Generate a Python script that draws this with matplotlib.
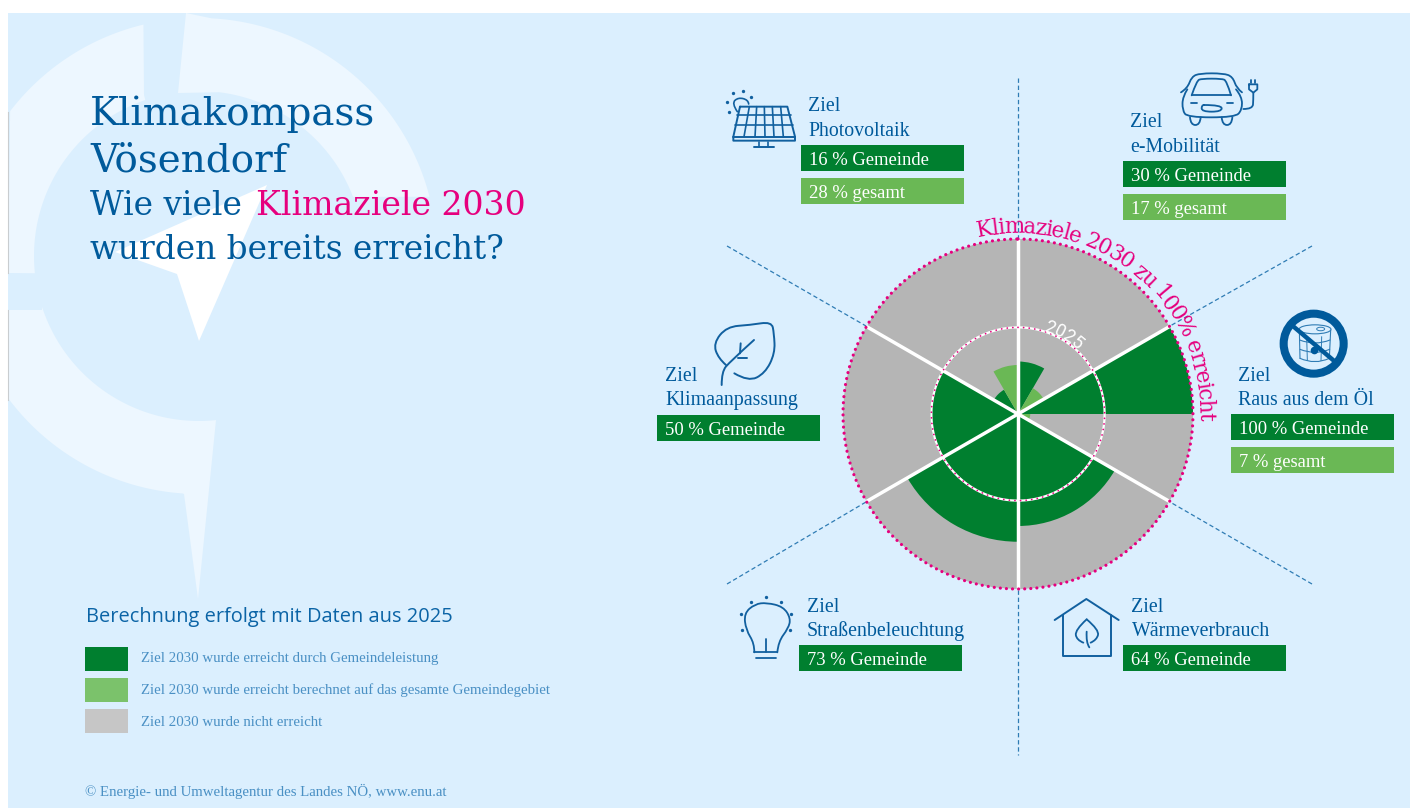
import numpy as np
import matplotlib
matplotlib.use("Agg")
import matplotlib.pyplot as plt
from matplotlib.patches import Polygon, Rectangle, Circle, Ellipse, PathPatch
from matplotlib.path import Path
from matplotlib.font_manager import FontProperties
from matplotlib.textpath import text_to_path

# ---------- data ----------
goals = ["e-Mobilität", "Raus aus dem Öl", "Wärmeverbrauch",
         "Straßenbeleuchtung", "Klimaanpassung", "Photovoltaik"]
gemeinde = [30, 100, 64, 73, 50, 16]
gesamt = [17, 7, None, None, None, 28]
ring_2025 = 49.5
legend_labels = ["Ziel 2030 wurde erreicht durch Gemeindeleistung",
                 "Ziel 2030 wurde erreicht berechnet auf das gesamte Gemeindegebiet",
                 "Ziel 2030 wurde nicht erreicht"]

# ---------- style ----------
BG, WM = "#DBEFFE", "#EDF7FF"
DARK, LIGHT, GREY = "#007F2F", "#6AB855", "#B5B5B5"
PINK, BLUE, ICON = "#E6007E", "#005A9B", "#11609F"
LEG_BLUE = "#4A90C4"
W, H = 1410, 808
CX, CY, R = 1018, 414, 175
SERIF = "Liberation Serif"
SLAB = "DejaVu Serif"

fig = plt.figure(figsize=(W / 100, H / 100), dpi=100, facecolor="white")

# ---------- background layer ----------
bg = fig.add_axes([0, 0, 1, 1], zorder=0)
bg.set_xlim(0, W); bg.set_ylim(H, 0); bg.axis("off")
bg.add_patch(Rectangle((8, 13), W - 8, H - 13, fc=BG, ec="none"))


def arc(cx, cy, r, a0, a1, n=80):
    a = np.radians(np.linspace(a0, a1, n))
    return np.c_[cx + r * np.sin(a), cy - r * np.cos(a)]


wc = (199, 256)
ri, ro = 165, 238
# upper right arc with its spike
pts = np.vstack([[(178, 93), (186, 13), (210, 18)],
                 arc(*wc, ro, 3, 75.6),
                 arc(*wc, ri, 69, 7)])
bg.add_patch(Polygon(pts, fc=WM, ec="none"))
# upper left arc
pts = np.vstack([arc(*wc, ro, -82, -13.5),
                 [(144, 95)],
                 arc(*wc, ri, -19, -96),
                 [(8, 273)]])
mask = pts[:, 0] >= 8
bg.add_patch(Polygon(pts[mask], fc=WM, ec="none"))
# lower left arc with its spike
pts = np.vstack([[(8, 310), (42, 310)],
                 arc(*wc, ri, 252, 174),
                 [(216, 420), (198, 599), (184, 494)],
                 arc(*wc, ro, 184, 233)])
bg.add_patch(Polygon(pts, fc=WM, ec="none"))
# needle
bg.add_patch(Polygon([(267, 185), (115, 252), (177, 274), (199, 341)], fc="white", ec="none"))
bg.plot([8, 8], [112, 273], color="#C9CDD0", lw=0.8)
bg.plot([8, 8], [310, 400], color="#C9CDD0", lw=0.8)

# dashed guide lines
for (x0, y0, x1, y1) in [(1018, 78, 1018, 240), (1018, 590, 1018, 755),
                         (727, 246, 866, 326), (1312, 246, 1170, 326),
                         (727, 584, 866, 502), (1312, 584, 1170, 502)]:
    bg.plot([x0, x1], [y0, y1], color="#2F7CB4", lw=0.9, dashes=(3.5, 2.2))

# ---------- polar chart ----------
ax = fig.add_axes([(CX - R) / W, (H - CY - R) / H, 2 * R / W, 2 * R / H],
                  projection="polar", zorder=1)
ax.set_theta_zero_location("N")
ax.set_theta_direction(-1)
ax.set_rlim(0, 100)
ax.set_axis_off()
sector = np.radians(60)
for i, (g, t) in enumerate(zip(gemeinde, gesamt)):
    start = i * sector
    ax.bar(start, 100, width=sector, align="edge", color=GREY, lw=0, zorder=1)
    if t is None:
        ax.bar(start, g, width=sector, align="edge", color=DARK, lw=0, zorder=2)
    else:
        ax.bar(start, g, width=sector / 2, align="edge", color=DARK, lw=0, zorder=2)
        ax.bar(start + sector / 2, t, width=sector / 2, align="edge", color=LIGHT, lw=0, zorder=2)
for i in range(len(goals)):
    ax.plot([i * sector] * 2, [0, 100], color="white", lw=2.5, zorder=3, clip_on=False,
            solid_capstyle="butt")
theta = np.linspace(0, 2 * np.pi, 500)
ax.plot(theta, np.full_like(theta, ring_2025), color="white", lw=1.6, zorder=4)
ax.plot(theta, np.full_like(theta, ring_2025), color=PINK, lw=1.3, zorder=5,
        dashes=(0.01, 3.1), dash_capstyle="round")
ax.plot(theta, np.full_like(theta, 100), color=PINK, lw=2.3, zorder=5, clip_on=False,
        dashes=(0.01, 1.9), dash_capstyle="round")

# ---------- foreground layer ----------
ov = fig.add_axes([0, 0, 1, 1], zorder=2)
ov.set_xlim(0, W); ov.set_ylim(H, 0); ov.axis("off"); ov.patch.set_alpha(0)


def curved(s, r, a0, a1, size, color, family):
    fp = FontProperties(family=family, size=size)
    adv = lambda q: text_to_path.get_text_width_height_descent(q, fp, False)[0]
    total = adv(s)
    for i, ch in enumerate(s):
        if ch == " ":
            continue
        mid = (adv(s[:i]) + adv(s[:i + 1])) / 2
        a = a0 + (a1 - a0) * mid / total
        ar = np.radians(a)
        ov.text(CX + r * np.sin(ar), CY - r * np.cos(ar), ch, rotation=-a,
                rotation_mode="anchor", ha="center", va="baseline",
                fontproperties=fp, color=color)


curved("Klimaziele 2030 zu 100% erreicht", 181, -12.5, 92, 15.5, PINK, SLAB)
curved("2025", 87, 17, 43, 13, "white", "Roboto")

# headline
ov.text(90, 125, "Klimakompass", family=SLAB, size=28, color=BLUE, va="baseline")
ov.text(90, 171, "Vösendorf", family=SLAB, size=28, color=BLUE, va="baseline")
ov.text(90, 215, "Wie viele", family=SLAB, size=23.7, color=BLUE, va="baseline")
ov.text(256, 215, "Klimaziele 2030", family=SLAB, size=23.9, color=PINK, va="baseline")
ov.text(90, 259, "wurden bereits erreicht?", family=SLAB, size=23.6, color=BLUE, va="baseline")

# legend
ov.text(86, 622, "Berechnung erfolgt mit Daten aus 2025", family="Open Sans", size=14.4,
        color="#0B64A6", va="baseline")
legend_colors = [DARK, "#7BC26B", "#C6C6C6"]
for lab, col, top, base in zip(legend_labels, legend_colors, (647, 678, 709), (662, 694, 726)):
    ov.add_patch(Rectangle((85, top), 43, 24, fc=col, ec="none"))
    ov.text(141, base, lab, family=SERIF, size=10.7, color=LEG_BLUE, va="baseline")
ov.text(85, 796, "© Energie- und Umweltagentur des Landes NÖ, www.enu.at", family=SERIF,
        size=10.7, color=LEG_BLUE, va="baseline")


# goal labels
def label(name, i, tx, by1, by2, bx, bt1, bt2=None):
    ov.text(tx, by1, "Ziel", family=SERIF, size=14.3, color=BLUE, va="baseline")
    ov.text(tx, by2, name, family=SERIF, size=14.3, color=BLUE, va="baseline")
    bw = 163
    ov.add_patch(Rectangle((bx, bt1), bw, 26, fc=DARK, ec="none"))
    ov.text(bx + 8, bt1 + 20, f"{gemeinde[i]} % Gemeinde", family=SERIF, size=13.4,
            color="white", va="baseline")
    if bt2 is not None and gesamt[i] is not None:
        ov.add_patch(Rectangle((bx, bt2), bw, 26, fc=LIGHT, ec="none"))
        ov.text(bx + 8, bt2 + 20, f"{gesamt[i]} % gesamt", family=SERIF, size=13.4,
                color="white", va="baseline")


label(goals[5], 5, 808, 111, 136, 801, 145, 178)
label(goals[0], 0, 1130, 127, 152, 1123, 161, 194)
label(goals[1], 1, 1238, 381, 405, 1231, 414, 447)
label(goals[4], 4, 665, 381, 405, 657, 415)
label(goals[3], 3, 807, 612, 636, 799, 645)
label(goals[2], 2, 1131.5, 612, 636, 1123, 645)


# ---------- icons ----------
def Z(ox, oy, pts):
    return [(ox + x / 3, oy + y / 3) for x, y in pts]


def line(ox, oy, pts, lw=1.2, color=ICON):
    p = np.array(Z(ox, oy, pts))
    ov.plot(p[:, 0], p[:, 1], color=color, lw=lw, solid_capstyle="round", solid_joinstyle="round")


def curve(ox, oy, pts, lw=1.2, color=ICON):
    p = np.array(Z(ox, oy, pts))
    verts, codes = [p[0]], [Path.MOVETO]
    for j in range(1, len(p) - 1):
        verts += [p[j], (p[j] + p[j + 1]) / 2 if j < len(p) - 2 else p[j + 1]]
        codes += [Path.CURVE3, Path.CURVE3]
    ov.add_patch(PathPatch(Path(verts, codes), fc="none", ec=color, lw=lw, capstyle="round"))


def dots(ox, oy, pts, s=1.4, color=ICON):
    p = np.array(Z(ox, oy, pts))
    ov.plot(p[:, 0], p[:, 1], "o", ms=s, color=color, mew=0)


# solar
o = (700, 70)
line(*o, [(120, 110), (262, 110), (285, 200), (285, 212), (100, 212), (100, 200), (120, 110)], 1.4)
line(*o, [(100, 200), (285, 200)], 1.4)
line(*o, [(110, 135), (272, 135)], 1.2); line(*o, [(105, 165), (278, 165)], 1.2)
for a, b in [(148, 132), (170, 165), (193, 195), (217, 222), (242, 250)]:
    line(*o, [(a, 110), (b, 200)], 1.2)
line(*o, [(178, 215), (178, 232)], 1.2); line(*o, [(205, 215), (205, 232)], 1.2)
line(*o, [(163, 232), (222, 232)], 1.4)
curve(*o, [(112, 125), (95, 100), (115, 82), (145, 90), (146, 102)], 1.2)
dots(*o, [(80, 95), (98, 70), (128, 63), (153, 80), (88, 125)], 2.4)

# car
o = (1100, 60)
curve(*o, [(243, 97), (262, 85), (275, 50), (300, 40), (370, 40), (398, 50), (410, 85), (426, 97)], 1.3)
curve(*o, [(275, 106), (290, 62), (305, 56), (365, 56), (380, 62), (393, 106)], 1.3)
line(*o, [(275, 106), (393, 106)], 1.3)
curve(*o, [(262, 88), (248, 110), (247, 150), (262, 172), (405, 172), (426, 150), (426, 110), (408, 88)], 1.3)
curve(*o, [(270, 172), (272, 195), (300, 195), (302, 172)], 1.3)
curve(*o, [(365, 172), (367, 195), (395, 195), (397, 172)], 1.3)
line(*o, [(272, 130), (290, 130)], 1.3); line(*o, [(380, 130), (400, 130)], 1.3)
curve(*o, [(312, 135), (305, 135), (305, 155), (365, 155), (365, 135), (312, 135)], 1.3)
curve(*o, [(430, 147), (458, 147), (460, 120), (460, 98)], 1.3)
line(*o, [(447, 73), (472, 73), (472, 88), (460, 98), (447, 88), (447, 73)], 1.3)
line(*o, [(452, 60), (452, 68)], 1.3); line(*o, [(466, 60), (466, 68)], 1.3)

# no oil
ocx, ocy = 1200 + 341 / 3, 300 + 131 / 3
ov.add_patch(Circle((ocx, ocy), 30, fc="none", ec=BLUE, lw=5.8))
thin = "#2F7CB4"
ov.add_patch(Ellipse((1200 + 345 / 3, 300 + 88 / 3), 32, 9, fc="none", ec=thin, lw=0.8))
ov.add_patch(Ellipse((1200 + 362 / 3, 300 + 87 / 3), 8, 3.5, fc="none", ec=thin, lw=0.7))
o = (1200, 300)
line(*o, [(298, 90), (300, 175)], 0.8, thin); line(*o, [(392, 90), (388, 175)], 0.8, thin)
curve(*o, [(300, 175), (345, 195), (388, 175)], 0.8, thin)
curve(*o, [(299, 120), (345, 138), (390, 120)], 0.8, thin)
curve(*o, [(300, 148), (345, 166), (389, 148)], 0.8, thin)
line(*o, [(320, 110), (322, 180)], 0.7, thin); line(*o, [(365, 110), (363, 182)], 0.7, thin)
dots(*o, [(342, 150)], 5.5, BLUE)
line(*o, [(275, 75), (405, 185)], 3.2, BLUE)

# leaf
o = (650, 310)
curve(*o, [(253, 190), (295, 215), (345, 190), (375, 130), (372, 70), (365, 35),
           (300, 45), (230, 50), (190, 100), (205, 145), (228, 165)], 1.4)
curve(*o, [(215, 225), (215, 185), (240, 155), (312, 90)], 1.4)
line(*o, [(265, 143), (290, 143)], 1.4); line(*o, [(272, 100), (270, 130)], 1.4)

# bulb
o = (720, 590)
curve(*o, [(103, 187), (103, 160), (78, 120), (72, 70), (105, 42), (140, 38), (190, 50),
           (212, 85), (205, 115), (175, 155), (172, 187)], 1.3)
line(*o, [(103, 187), (172, 187)], 1.3); line(*o, [(108, 203), (167, 203)], 1.3)
line(*o, [(138, 148), (138, 187)], 1.3)
dots(*o, [(93, 37), (138, 22), (183, 37), (63, 73), (213, 73), (67, 120), (210, 120)], 2.4)

# house
o = (1040, 590)
line(*o, [(44, 90), (139, 27), (236, 90)], 1.4)
line(*o, [(70, 75), (70, 198), (213, 198), (213, 75)], 1.4)
curve(*o, [(140, 88), (105, 120), (110, 150), (130, 158)], 1.3)
curve(*o, [(140, 88), (178, 120), (170, 150), (152, 158)], 1.3)
curve(*o, [(140, 125), (138, 158), (148, 172)], 1.3)

fig.savefig("out.png", dpi=100, facecolor="white")
